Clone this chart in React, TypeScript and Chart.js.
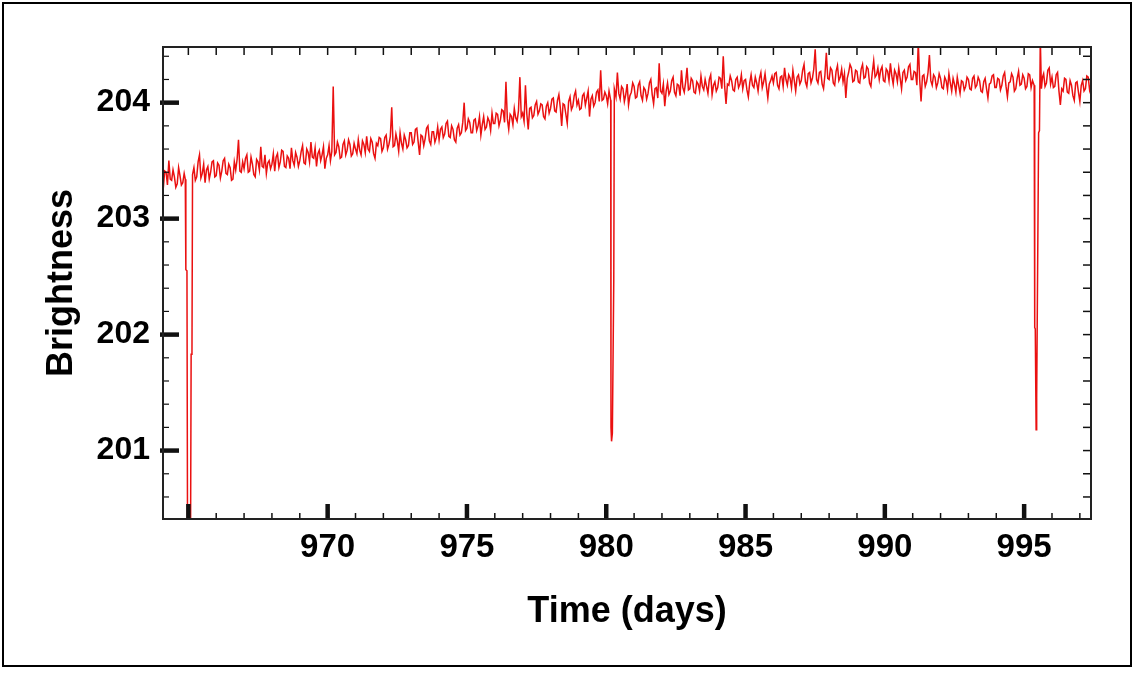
import React, { useEffect, useRef } from 'react';
import { Chart, registerables } from 'chart.js';

Chart.register(...registerables);

// Time (days) of each sample
const times: number[] = [
  964.10, 964.15, 964.20, 964.25, 964.30, 964.35, 964.40, 964.45, 964.50, 964.55, 964.60, 964.65, 964.70, 964.75, 964.80, 964.85,
  964.89, 964.91, 964.95, 964.97, 965.08, 965.10, 965.13, 965.15,
  965.20, 965.25, 965.30, 965.35, 965.40, 965.45, 965.50, 965.55, 965.60, 965.65, 965.70, 965.75, 965.80, 965.85, 965.90, 965.95,
  966.00, 966.05, 966.10, 966.15, 966.20, 966.25, 966.30, 966.35, 966.40, 966.45, 966.50, 966.55, 966.60, 966.65, 966.70, 966.75, 966.80, 966.85, 966.90, 966.95,
  967.00, 967.05, 967.10, 967.15, 967.20, 967.25, 967.30, 967.35, 967.40, 967.45, 967.50, 967.55, 967.60, 967.65, 967.70, 967.75, 967.80, 967.85, 967.90, 967.95,
  968.00, 968.05, 968.10, 968.15, 968.20, 968.25, 968.30, 968.35, 968.40, 968.45, 968.50, 968.55, 968.60, 968.65, 968.70, 968.75, 968.80, 968.85, 968.90, 968.95,
  969.00, 969.05, 969.10, 969.15, 969.20, 969.25, 969.30, 969.35, 969.40, 969.45, 969.50, 969.55, 969.60, 969.65, 969.70, 969.75, 969.80, 969.85, 969.90, 969.95,
  970.00, 970.05, 970.10, 970.15, 970.20, 970.25, 970.30, 970.35, 970.40, 970.45, 970.50, 970.55, 970.60, 970.65, 970.70, 970.75, 970.80, 970.85, 970.90, 970.95,
  971.00, 971.05, 971.10, 971.15, 971.20, 971.25, 971.30, 971.35, 971.40, 971.45, 971.50, 971.55, 971.60, 971.65, 971.70, 971.75, 971.80, 971.85, 971.90, 971.95,
  972.00, 972.05, 972.10, 972.15, 972.20, 972.25, 972.30, 972.35, 972.40, 972.45, 972.50, 972.55, 972.60, 972.65, 972.70, 972.75, 972.80, 972.85, 972.90, 972.95,
  973.00, 973.05, 973.10, 973.15, 973.20, 973.25, 973.30, 973.35, 973.40, 973.45, 973.50, 973.55, 973.60, 973.65, 973.70, 973.75, 973.80, 973.85, 973.90, 973.95,
  974.00, 974.05, 974.10, 974.15, 974.20, 974.25, 974.30, 974.35, 974.40, 974.45, 974.50, 974.55, 974.60, 974.65, 974.70, 974.75, 974.80, 974.85, 974.90, 974.95,
  975.00, 975.05, 975.10, 975.15, 975.20, 975.25, 975.30, 975.35, 975.40, 975.45, 975.50, 975.55, 975.60, 975.65, 975.70, 975.75, 975.80, 975.85, 975.90, 975.95,
  976.00, 976.05, 976.10, 976.15, 976.20, 976.25, 976.30, 976.35, 976.40, 976.45, 976.50, 976.55, 976.60, 976.65, 976.70, 976.75, 976.80, 976.85, 976.90, 976.95,
  977.00, 977.05, 977.10, 977.15, 977.20, 977.25, 977.30, 977.35, 977.40, 977.45, 977.50, 977.55, 977.60, 977.65, 977.70, 977.75, 977.80, 977.85, 977.90, 977.95,
  978.00, 978.05, 978.10, 978.15, 978.20, 978.25, 978.30, 978.35, 978.40, 978.45, 978.50, 978.55, 978.60, 978.65, 978.70, 978.75, 978.80, 978.85, 978.90, 978.95,
  979.00, 979.05, 979.10, 979.15, 979.20, 979.25, 979.30, 979.35, 979.40, 979.45, 979.50, 979.55, 979.60, 979.65, 979.70, 979.75, 979.80, 979.85, 979.90, 979.95,
  980.00, 980.05, 980.10,
  980.16, 980.17, 980.19, 980.22, 980.27, 980.29,
  980.35, 980.40, 980.45, 980.50, 980.55, 980.60, 980.65, 980.70, 980.75, 980.80, 980.85, 980.90, 980.95,
  981.00, 981.05, 981.10, 981.15, 981.20, 981.25, 981.30, 981.35, 981.40, 981.45, 981.50, 981.55, 981.60, 981.65, 981.70, 981.75, 981.80, 981.85, 981.90, 981.95,
  982.00, 982.05, 982.10, 982.15, 982.20, 982.25, 982.30, 982.35, 982.40, 982.45, 982.50, 982.55, 982.60, 982.65, 982.70, 982.75, 982.80, 982.85, 982.90, 982.95,
  983.00, 983.05, 983.10, 983.15, 983.20, 983.25, 983.30, 983.35, 983.40, 983.45, 983.50, 983.55, 983.60, 983.65, 983.70, 983.75, 983.80, 983.85, 983.90, 983.95,
  984.00, 984.05, 984.10, 984.15, 984.20, 984.25, 984.30, 984.35, 984.40, 984.45, 984.50, 984.55, 984.60, 984.65, 984.70, 984.75, 984.80, 984.85, 984.90, 984.95,
  985.00, 985.05, 985.10, 985.15, 985.20, 985.25, 985.30, 985.35, 985.40, 985.45, 985.50, 985.55, 985.60, 985.65, 985.70, 985.75, 985.80, 985.85, 985.90, 985.95,
  986.00, 986.05, 986.10, 986.15, 986.20, 986.25, 986.30, 986.35, 986.40, 986.45, 986.50, 986.55, 986.60, 986.65, 986.70, 986.75, 986.80, 986.85, 986.90, 986.95,
  987.00, 987.05, 987.10, 987.15, 987.20, 987.25, 987.30, 987.35, 987.40, 987.45, 987.50, 987.55, 987.60, 987.65, 987.70, 987.75, 987.80, 987.85, 987.90, 987.95,
  988.00, 988.05, 988.10, 988.15, 988.20, 988.25, 988.30, 988.35, 988.40, 988.45, 988.50, 988.55, 988.60, 988.65, 988.70, 988.75, 988.80, 988.85, 988.90, 988.95,
  989.00, 989.05, 989.10, 989.15, 989.20, 989.25, 989.30, 989.35, 989.40, 989.45, 989.50, 989.55, 989.60, 989.65, 989.70, 989.75, 989.80, 989.85, 989.90, 989.95,
  990.00, 990.05, 990.10, 990.15, 990.20, 990.25, 990.30, 990.35, 990.40, 990.45, 990.50, 990.55, 990.60, 990.65, 990.70, 990.75, 990.80, 990.85, 990.90, 990.95,
  991.00, 991.05, 991.10, 991.15, 991.20, 991.25, 991.30, 991.35, 991.40, 991.45, 991.50, 991.55, 991.60, 991.65, 991.70, 991.75, 991.80, 991.85, 991.90, 991.95,
  992.00, 992.05, 992.10, 992.15, 992.20, 992.25, 992.30, 992.35, 992.40, 992.45, 992.50, 992.55, 992.60, 992.65, 992.70, 992.75, 992.80, 992.85, 992.90, 992.95,
  993.00, 993.05, 993.10, 993.15, 993.20, 993.25, 993.30, 993.35, 993.40, 993.45, 993.50, 993.55, 993.60, 993.65, 993.70, 993.75, 993.80, 993.85, 993.90, 993.95,
  994.00, 994.05, 994.10, 994.15, 994.20, 994.25, 994.30, 994.35, 994.40, 994.45, 994.50, 994.55, 994.60, 994.65, 994.70, 994.75, 994.80, 994.85, 994.90, 994.95,
  995.00, 995.05, 995.10, 995.15, 995.20, 995.25, 995.30,
  995.36, 995.38, 995.40, 995.43, 995.45, 995.52, 995.55, 995.58, 995.62,
  995.66, 995.70, 995.75, 995.80, 995.85, 995.90, 995.95,
  996.00, 996.05, 996.10, 996.15, 996.20, 996.25, 996.30, 996.35, 996.40, 996.45, 996.50, 996.55, 996.60, 996.65, 996.70, 996.75, 996.80, 996.85, 996.90, 996.95,
  997.00, 997.05, 997.10, 997.15, 997.20, 997.25, 997.30, 997.35, 997.40,
];

// Brightness of each sample
const brightness: number[] = [
  203.26, 203.41, 203.40, 203.29, 203.50, 203.34, 203.33, 203.42, 203.36, 203.27, 203.30, 203.44, 203.37, 203.29, 203.31, 203.39,
  203.34, 202.56, 202.55, 200.30, 200.30, 201.83, 201.85, 203.38,
  203.44, 203.33, 203.36, 203.49, 203.55, 203.35, 203.39, 203.47, 203.31, 203.42, 203.45, 203.34, 203.40, 203.49, 203.50, 203.36,
  203.37, 203.48, 203.46, 203.35, 203.41, 203.50, 203.52, 203.39, 203.38, 203.47, 203.44, 203.33, 203.34, 203.49, 203.42, 203.51, 203.68, 203.41, 203.40, 203.49,
  203.43, 203.52, 203.55, 203.40, 203.41, 203.53, 203.47, 203.38, 203.36, 203.51, 203.49, 203.42, 203.62, 203.45, 203.44, 203.55, 203.39, 203.48, 203.50, 203.43,
  203.47, 203.56, 203.41, 203.53, 203.56, 203.44, 203.49, 203.59, 203.58, 203.45, 203.44, 203.54, 203.52, 203.43, 203.61, 203.50, 203.46, 203.57, 203.53, 203.45,
  203.50, 203.58, 203.63, 203.48, 203.47, 203.60, 203.57, 203.49, 203.66, 203.53, 203.52, 203.61, 203.45, 203.56, 203.59, 203.50, 203.55, 203.62, 203.43, 203.52,
  203.55, 203.63, 203.50, 203.58, 204.14, 203.55, 203.57, 203.66, 203.62, 203.52, 203.53, 203.64, 203.67, 203.55, 203.59, 203.68, 203.64, 203.54, 203.56, 203.65,
  203.60, 203.56, 203.68, 203.59, 203.55, 203.67, 203.64, 203.57, 203.71, 203.60, 203.58, 203.69, 203.66, 203.56, 203.52, 203.65, 203.63, 203.70, 203.69, 203.58,
  203.61, 203.70, 203.72, 203.60, 203.64, 203.71, 203.96, 203.62, 203.63, 203.73, 203.67, 203.58, 203.74, 203.65, 203.60, 203.72, 203.68, 203.61, 203.63, 203.74,
  203.74, 203.64, 203.66, 203.77, 203.78, 203.66, 203.55, 203.72, 203.71, 203.63, 203.69, 203.78, 203.80, 203.67, 203.64, 203.75, 203.75, 203.66, 203.70, 203.79,
  203.68, 203.77, 203.79, 203.70, 203.73, 203.82, 203.84, 203.71, 203.70, 203.80, 203.77, 203.68, 203.66, 203.78, 203.81, 203.72, 203.74, 203.83, 204.00, 203.76,
  203.78, 203.86, 203.83, 203.74, 203.74, 203.85, 203.86, 203.76, 203.80, 203.88, 203.72, 203.81, 203.88, 203.77, 203.79, 203.87, 203.84, 203.76, 203.91, 203.82,
  203.82, 203.91, 203.90, 203.80, 203.85, 203.94, 203.93, 203.83, 204.18, 203.86, 203.77, 203.90, 203.88, 203.81, 203.95, 203.87, 203.84, 203.93, 204.22, 203.88,
  203.91, 203.84, 204.15, 203.90, 203.77, 203.95, 203.96, 203.87, 203.89, 203.98, 204.01, 203.90, 203.93, 203.99, 203.98, 203.88, 203.86, 203.97, 204.00, 203.91,
  203.95, 204.03, 204.04, 203.93, 203.92, 204.02, 204.07, 203.96, 203.80, 203.99, 203.98, 203.90, 203.82, 204.01, 204.05, 203.94, 203.97, 204.06, 204.10, 203.98,
  204.02, 203.94, 203.95, 204.06, 204.08, 203.98, 204.04, 204.10, 203.88, 204.03, 204.06, 203.97, 204.00, 204.09, 204.11, 204.01, 204.28, 204.02, 204.03, 204.09,
  204.06, 203.99, 204.10,
  204.02, 201.20, 201.08, 201.15, 202.47, 204.12,
  204.05, 204.26, 204.08, 204.03, 204.14, 204.12, 204.01, 204.07, 204.16, 203.98, 204.06, 204.09, 204.17,
  204.14, 204.04, 204.05, 204.15, 204.18, 204.06, 204.02, 204.13, 204.11, 204.03, 204.08, 204.17, 204.20, 204.07, 203.99, 204.12, 204.13, 204.04, 204.34, 204.10,
  204.08, 204.16, 203.97, 204.10, 204.17, 204.07, 204.10, 204.19, 204.22, 204.09, 204.06, 204.16, 204.15, 204.06, 204.28, 204.13, 204.09, 204.18, 204.30, 204.11,
  204.12, 204.21, 204.19, 204.09, 204.08, 204.18, 204.16, 204.10, 204.23, 204.14, 204.11, 204.20, 204.14, 204.08, 204.20, 204.24, 204.07, 204.15, 204.18, 204.10,
  204.13, 204.22, 204.21, 204.12, 204.40, 204.14, 203.99, 204.16, 204.15, 204.23, 204.19, 204.11, 204.10, 204.20, 204.22, 204.13, 204.16, 204.24, 204.12, 204.19,
  204.20, 204.11, 204.05, 204.17, 204.24, 204.15, 204.13, 204.22, 204.17, 204.10, 204.21, 204.26, 204.13, 204.18, 204.25, 204.14, 204.04, 204.16, 204.19, 204.23,
  204.17, 204.25, 204.26, 204.15, 204.12, 204.22, 204.23, 204.14, 204.30, 204.20, 204.15, 204.24, 204.21, 204.13, 204.28, 204.19, 204.10, 204.22, 204.24, 204.16,
  204.19, 204.28, 204.33, 204.18, 204.14, 204.25, 204.26, 204.17, 204.21, 204.29, 204.46, 204.20, 204.17, 204.26, 204.27, 204.16, 204.12, 204.24, 204.43, 204.21,
  204.20, 204.30, 204.28, 204.17, 204.15, 204.27, 204.32, 204.19, 204.22, 204.29, 204.18, 204.25, 204.04, 204.21, 204.26, 204.33, 204.30, 204.18, 204.19, 204.28,
  204.27, 204.18, 204.17, 204.29, 204.33, 204.21, 204.22, 204.31, 204.29, 204.17, 204.14, 204.26, 204.36, 204.22, 204.24, 204.30, 204.20, 204.28, 204.31, 204.19,
  204.18, 204.29, 204.27, 204.19, 204.34, 204.23, 204.16, 204.28, 204.25, 204.18, 204.30, 204.21, 204.12, 204.26, 204.28, 204.19, 204.22, 204.31, 204.33, 204.20,
  204.20, 204.27, 204.26, 204.15, 204.52, 204.20, 204.01, 204.23, 204.24, 204.14, 204.18, 204.26, 204.41, 204.19, 204.15, 204.24, 204.22, 204.13, 204.17, 204.25,
  204.21, 204.13, 204.12, 204.22, 204.19, 204.11, 204.25, 204.17, 204.10, 204.21, 204.16, 204.09, 204.22, 204.15, 204.08, 204.19, 204.18, 204.11, 204.14, 204.22,
  204.20, 204.12, 204.11, 204.21, 204.23, 204.13, 204.15, 204.22, 204.19, 204.10, 204.09, 204.18, 204.21, 204.12, 204.04, 204.16, 204.17, 204.23, 204.24, 204.13,
  204.13, 204.21, 204.20, 204.11, 204.15, 204.23, 204.26, 204.14, 204.05, 204.17, 204.18, 204.25, 204.22, 204.10, 204.12, 204.21, 204.27, 204.15, 204.16, 204.24,
  204.21, 204.12, 204.14, 204.25, 204.24, 204.13, 204.19,
  204.15, 202.06, 202.05, 201.18, 201.46, 203.74, 203.76, 204.55, 204.12,
  204.22, 204.25, 204.14, 204.17, 204.28, 204.30, 204.16,
  204.22, 204.13, 204.14, 204.24, 204.26, 204.10, 203.98, 204.12, 204.10, 204.21, 204.20, 204.09, 204.08, 204.19, 204.15, 204.06, 204.02, 204.17, 204.18, 204.09,
  204.01, 204.15, 204.19, 204.10, 204.12, 204.23, 204.22, 204.11, 204.16,
];

// Axis ranges and ticks
const xRange = [964.09, 997.4];
const yRange = [200.41, 204.48];
const xLabelTicks = [970, 975, 980, 985, 990, 995];
const xMajorTicks = [965, 970, 975, 980, 985, 990, 995];
const xMinorTicks = [
  965, 966, 967, 968, 969, 970, 971, 972, 973, 974, 975, 976, 977, 978, 979, 980, 981,
  982, 983, 984, 985, 986, 987, 988, 989, 990, 991, 992, 993, 994, 995, 996, 997,
];
const yLabelTicks = [201, 202, 203, 204];
const yMinorTicks = [
  200.6, 200.8, 201.0, 201.2, 201.4, 201.6, 201.8, 202.0, 202.2, 202.4,
  202.6, 202.8, 203.0, 203.2, 203.4, 203.6, 203.8, 204.0, 204.2, 204.4,
];

const xTitle = 'Time (days)';
const yTitle = 'Brightness';

const frameTicks = {
  id: 'frameTicks',
  afterDatasetsDraw(chart: any) {
    const { ctx, chartArea, scales } = chart;
    const { left, right, top, bottom } = chartArea;
    const x = scales.x;
    const y = scales.y;
    const seg = (x1: number, y1: number, x2: number, y2: number, w: number) => {
      ctx.lineWidth = w;
      ctx.beginPath();
      ctx.moveTo(x1, y1);
      ctx.lineTo(x2, y2);
      ctx.stroke();
    };
    ctx.save();
    ctx.strokeStyle = '#111';
    ctx.lineCap = 'butt';
    for (const d of xMinorTicks) {
      const px = x.getPixelForValue(d);
      seg(px, bottom, px, bottom - 6, 1.5);
      seg(px, top, px, top + 8, 1.5);
    }
    for (const v of yMinorTicks) {
      const py = y.getPixelForValue(v);
      seg(left, py, left + 6, py, 1.2);
      seg(right, py, right - 8, py, 1.5);
    }
    for (const d of xMajorTicks) {
      const px = x.getPixelForValue(d);
      seg(px, bottom, px, bottom - 15, 4.5);
    }
    for (const v of yLabelTicks) {
      const py = y.getPixelForValue(v);
      seg(left - 3, py, left + 16, py, 4.5);
    }
    ctx.strokeStyle = '#222';
    ctx.lineWidth = 2;
    ctx.strokeRect(left, top, right - left, bottom - top);
    ctx.restore();
  },
};

export default function App() {
  const ref = useRef<HTMLCanvasElement>(null);
  useEffect(() => {
    document.body.style.margin = '0';
    const points = times.map((t, i) => ({ x: t, y: brightness[i] }));
    const chart = new Chart(ref.current as HTMLCanvasElement, {
      type: 'line',
      data: {
        datasets: [
          {
            data: points,
            borderColor: '#ea1010',
            borderWidth: 1.5,
            pointRadius: 0,
            tension: 0,
            fill: false,
          },
        ],
      },
      options: {
        animation: false,
        responsive: true,
        maintainAspectRatio: false,
        layout: { padding: { left: 0, top: 47, right: 45, bottom: 0 } },
        plugins: { legend: { display: false }, tooltip: { enabled: false } },
        scales: {
          x: {
            type: 'linear',
            min: xRange[0],
            max: xRange[1],
            grid: { display: false, drawTicks: false },
            border: { display: false },
            afterBuildTicks: (s: any) => {
              s.ticks = xLabelTicks.map((v) => ({ value: v }));
            },
            afterFit: (s: any) => {
              s.height = 156;
            },
            ticks: {
              color: '#000',
              padding: 9,
              maxRotation: 0,
              autoSkip: false,
              font: { family: "'Liberation Sans', Arial, sans-serif", weight: 'bold', size: 33 },
              callback: (v: any) => String(v),
            },
            title: {
              display: true,
              text: xTitle,
              color: '#000',
              font: { family: "'Liberation Sans', Arial, sans-serif", weight: 'bold', size: 36 },
              padding: { top: 0, bottom: 41 },
            },
          },
          y: {
            type: 'linear',
            min: yRange[0],
            max: yRange[1],
            grid: { display: false, drawTicks: false },
            border: { display: false },
            afterBuildTicks: (s: any) => {
              s.ticks = yLabelTicks.map((v) => ({ value: v }));
            },
            afterFit: (s: any) => {
              s.width = 163;
            },
            ticks: {
              color: '#000',
              padding: 13,
              autoSkip: false,
              font: { family: "'Liberation Sans', Arial, sans-serif", weight: 'bold', size: 32 },
              callback: (v: any) => String(v),
            },
            title: {
              display: true,
              text: yTitle,
              color: '#000',
              font: { family: "'Liberation Sans', Arial, sans-serif", weight: 'bold', size: 36 },
              padding: { top: 40, bottom: 0 },
            },
          },
        },
      },
      plugins: [frameTicks],
    });
    return () => chart.destroy();
  }, []);
  return (
    <div style={{ position: 'fixed', left: 0, top: 0, width: 1136, height: 675, background: '#fff' }}>
      <canvas ref={ref} />
      <div
        style={{
          position: 'absolute',
          left: 2,
          top: 2,
          width: 1130,
          height: 665,
          border: '2px solid #000',
          boxSizing: 'border-box',
          pointerEvents: 'none',
        }}
      />
    </div>
  );
}
